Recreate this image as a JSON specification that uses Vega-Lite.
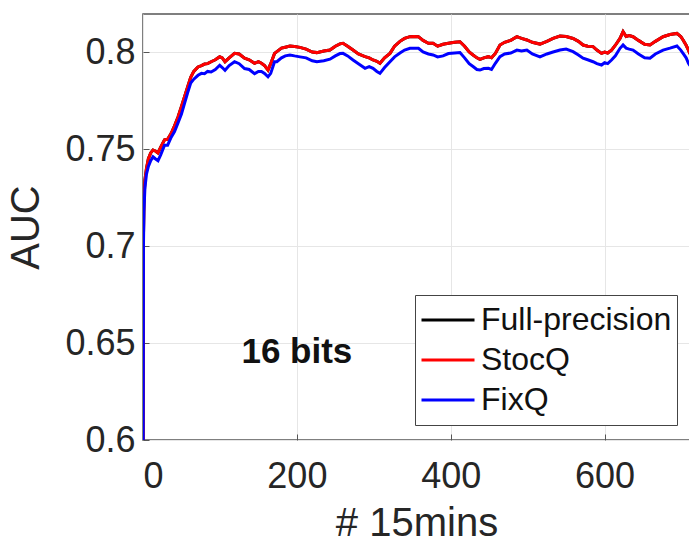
{
  "$schema": "https://vega.github.io/schema/vega-lite/v6.json",
  "width": 547,
  "height": 426,
  "autosize": {"type": "none"},
  "padding": {"left": 143, "top": 14, "right": 0, "bottom": 102},
  "background": "white",
  "config": {
    "font": "Liberation Sans",
    "view": {"stroke": "#555555", "strokeWidth": 1.5},
    "axis": {
      "grid": true,
      "gridColor": "#e6e6e6",
      "gridWidth": 1,
      "domain": false,
      "tickColor": "#555555",
      "tickSize": -6,
      "labelFontSize": 36,
      "labelColor": "#262626",
      "titleFontSize": 40,
      "titleFontWeight": "normal",
      "titleColor": "#262626"
    }
  },
  "layer": [
    {
      "data": {
        "values": [
          {"x": 0, "Full-precision": 0.55, "StocQ": 0.55, "FixQ": 0.55},
          {"x": 0.6, "Full-precision": 0.705, "StocQ": 0.705, "FixQ": 0.7},
          {"x": 1.2, "Full-precision": 0.722, "StocQ": 0.722, "FixQ": 0.718},
          {"x": 2.5, "Full-precision": 0.734, "StocQ": 0.734, "FixQ": 0.73},
          {"x": 4.5, "Full-precision": 0.74, "StocQ": 0.74, "FixQ": 0.737},
          {"x": 7, "Full-precision": 0.745, "StocQ": 0.745, "FixQ": 0.741},
          {"x": 10, "Full-precision": 0.748, "StocQ": 0.748, "FixQ": 0.744},
          {"x": 13, "Full-precision": 0.7495, "StocQ": 0.7495, "FixQ": 0.746},
          {"x": 16, "Full-precision": 0.749, "StocQ": 0.749, "FixQ": 0.745},
          {"x": 19.5, "Full-precision": 0.748, "StocQ": 0.748, "FixQ": 0.744},
          {"x": 23, "Full-precision": 0.751, "StocQ": 0.751, "FixQ": 0.747},
          {"x": 28, "Full-precision": 0.7547, "StocQ": 0.7547, "FixQ": 0.752},
          {"x": 32, "Full-precision": 0.755, "StocQ": 0.755, "FixQ": 0.752},
          {"x": 36.5, "Full-precision": 0.758, "StocQ": 0.758, "FixQ": 0.756},
          {"x": 41, "Full-precision": 0.762, "StocQ": 0.762, "FixQ": 0.759},
          {"x": 45.5, "Full-precision": 0.7665, "StocQ": 0.7665, "FixQ": 0.7635},
          {"x": 50, "Full-precision": 0.772, "StocQ": 0.772, "FixQ": 0.768},
          {"x": 54, "Full-precision": 0.777, "StocQ": 0.777, "FixQ": 0.7735},
          {"x": 58, "Full-precision": 0.782, "StocQ": 0.782, "FixQ": 0.779},
          {"x": 62, "Full-precision": 0.787, "StocQ": 0.787, "FixQ": 0.784},
          {"x": 66, "Full-precision": 0.79, "StocQ": 0.79, "FixQ": 0.786},
          {"x": 71.5, "Full-precision": 0.7923, "StocQ": 0.7923, "FixQ": 0.788},
          {"x": 76, "Full-precision": 0.793, "StocQ": 0.793, "FixQ": 0.789},
          {"x": 80, "Full-precision": 0.7938, "StocQ": 0.7938, "FixQ": 0.7888},
          {"x": 84, "Full-precision": 0.794, "StocQ": 0.794, "FixQ": 0.79},
          {"x": 88.5, "Full-precision": 0.795, "StocQ": 0.795, "FixQ": 0.7897},
          {"x": 94, "Full-precision": 0.796, "StocQ": 0.796, "FixQ": 0.791},
          {"x": 99.7, "Full-precision": 0.7976, "StocQ": 0.7976, "FixQ": 0.7932},
          {"x": 103, "Full-precision": 0.797, "StocQ": 0.797, "FixQ": 0.792},
          {"x": 106.6, "Full-precision": 0.795, "StocQ": 0.795, "FixQ": 0.7906},
          {"x": 112, "Full-precision": 0.797, "StocQ": 0.797, "FixQ": 0.793},
          {"x": 119, "Full-precision": 0.7993, "StocQ": 0.7993, "FixQ": 0.795},
          {"x": 125, "Full-precision": 0.799, "StocQ": 0.799, "FixQ": 0.794},
          {"x": 132, "Full-precision": 0.7968, "StocQ": 0.7968, "FixQ": 0.7915},
          {"x": 138, "Full-precision": 0.796, "StocQ": 0.796, "FixQ": 0.791},
          {"x": 145, "Full-precision": 0.7942, "StocQ": 0.7942, "FixQ": 0.7888},
          {"x": 150, "Full-precision": 0.795, "StocQ": 0.795, "FixQ": 0.79},
          {"x": 154, "Full-precision": 0.7942, "StocQ": 0.7942, "FixQ": 0.79},
          {"x": 158, "Full-precision": 0.793, "StocQ": 0.793, "FixQ": 0.789},
          {"x": 162.5, "Full-precision": 0.7907, "StocQ": 0.7907, "FixQ": 0.7872},
          {"x": 166, "Full-precision": 0.794, "StocQ": 0.794, "FixQ": 0.789},
          {"x": 171, "Full-precision": 0.7993, "StocQ": 0.7993, "FixQ": 0.795},
          {"x": 174, "Full-precision": 0.8002, "StocQ": 0.8002, "FixQ": 0.795},
          {"x": 180, "Full-precision": 0.802, "StocQ": 0.802, "FixQ": 0.797},
          {"x": 185, "Full-precision": 0.8025, "StocQ": 0.8025, "FixQ": 0.798},
          {"x": 191, "Full-precision": 0.8031, "StocQ": 0.8031, "FixQ": 0.7985},
          {"x": 197, "Full-precision": 0.8028, "StocQ": 0.8028, "FixQ": 0.798},
          {"x": 204, "Full-precision": 0.8024, "StocQ": 0.8024, "FixQ": 0.7975},
          {"x": 212, "Full-precision": 0.8015, "StocQ": 0.8015, "FixQ": 0.797},
          {"x": 220, "Full-precision": 0.8, "StocQ": 0.8, "FixQ": 0.7955},
          {"x": 226, "Full-precision": 0.7997, "StocQ": 0.7997, "FixQ": 0.795},
          {"x": 235, "Full-precision": 0.8005, "StocQ": 0.8005, "FixQ": 0.7955},
          {"x": 243, "Full-precision": 0.801, "StocQ": 0.801, "FixQ": 0.7963},
          {"x": 250, "Full-precision": 0.803, "StocQ": 0.803, "FixQ": 0.798},
          {"x": 256, "Full-precision": 0.8042, "StocQ": 0.8042, "FixQ": 0.7992},
          {"x": 260, "Full-precision": 0.8045, "StocQ": 0.8045, "FixQ": 0.7993},
          {"x": 266, "Full-precision": 0.803, "StocQ": 0.803, "FixQ": 0.798},
          {"x": 273, "Full-precision": 0.801, "StocQ": 0.801, "FixQ": 0.7959},
          {"x": 280, "Full-precision": 0.799, "StocQ": 0.799, "FixQ": 0.794},
          {"x": 288.6, "Full-precision": 0.7976, "StocQ": 0.7976, "FixQ": 0.7916},
          {"x": 294, "Full-precision": 0.797, "StocQ": 0.797, "FixQ": 0.7925},
          {"x": 299, "Full-precision": 0.7959, "StocQ": 0.7959, "FixQ": 0.7916},
          {"x": 304, "Full-precision": 0.7952, "StocQ": 0.7952, "FixQ": 0.79},
          {"x": 308, "Full-precision": 0.7942, "StocQ": 0.7942, "FixQ": 0.789},
          {"x": 314, "Full-precision": 0.797, "StocQ": 0.797, "FixQ": 0.792},
          {"x": 321, "Full-precision": 0.7993, "StocQ": 0.7993, "FixQ": 0.795},
          {"x": 327, "Full-precision": 0.803, "StocQ": 0.803, "FixQ": 0.7975},
          {"x": 334, "Full-precision": 0.8055, "StocQ": 0.8055, "FixQ": 0.7995},
          {"x": 340, "Full-precision": 0.807, "StocQ": 0.807, "FixQ": 0.801},
          {"x": 347, "Full-precision": 0.8079, "StocQ": 0.8079, "FixQ": 0.8019},
          {"x": 352, "Full-precision": 0.808, "StocQ": 0.808, "FixQ": 0.802},
          {"x": 358, "Full-precision": 0.8079, "StocQ": 0.8079, "FixQ": 0.8019},
          {"x": 364, "Full-precision": 0.806, "StocQ": 0.806, "FixQ": 0.8},
          {"x": 371, "Full-precision": 0.8045, "StocQ": 0.8045, "FixQ": 0.799},
          {"x": 377, "Full-precision": 0.8045, "StocQ": 0.8045, "FixQ": 0.7985},
          {"x": 383, "Full-precision": 0.803, "StocQ": 0.803, "FixQ": 0.7975},
          {"x": 390, "Full-precision": 0.804, "StocQ": 0.804, "FixQ": 0.798},
          {"x": 397, "Full-precision": 0.8045, "StocQ": 0.8045, "FixQ": 0.7992},
          {"x": 405, "Full-precision": 0.805, "StocQ": 0.805, "FixQ": 0.7995},
          {"x": 412, "Full-precision": 0.8053, "StocQ": 0.8053, "FixQ": 0.7997},
          {"x": 418, "Full-precision": 0.803, "StocQ": 0.803, "FixQ": 0.797},
          {"x": 424, "Full-precision": 0.8, "StocQ": 0.8, "FixQ": 0.794},
          {"x": 429, "Full-precision": 0.7985, "StocQ": 0.7985, "FixQ": 0.7925},
          {"x": 434, "Full-precision": 0.797, "StocQ": 0.797, "FixQ": 0.791},
          {"x": 438, "Full-precision": 0.7962, "StocQ": 0.7962, "FixQ": 0.7907},
          {"x": 443, "Full-precision": 0.797, "StocQ": 0.797, "FixQ": 0.7915},
          {"x": 449, "Full-precision": 0.7976, "StocQ": 0.7976, "FixQ": 0.7916},
          {"x": 453, "Full-precision": 0.797, "StocQ": 0.797, "FixQ": 0.791},
          {"x": 458, "Full-precision": 0.7993, "StocQ": 0.7993, "FixQ": 0.7942},
          {"x": 464, "Full-precision": 0.8036, "StocQ": 0.8036, "FixQ": 0.7976},
          {"x": 470, "Full-precision": 0.805, "StocQ": 0.805, "FixQ": 0.799},
          {"x": 478, "Full-precision": 0.806, "StocQ": 0.806, "FixQ": 0.7995},
          {"x": 486, "Full-precision": 0.8079, "StocQ": 0.8079, "FixQ": 0.801},
          {"x": 492, "Full-precision": 0.807, "StocQ": 0.807, "FixQ": 0.8005},
          {"x": 499, "Full-precision": 0.8062, "StocQ": 0.8062, "FixQ": 0.801},
          {"x": 506, "Full-precision": 0.805, "StocQ": 0.805, "FixQ": 0.799},
          {"x": 516, "Full-precision": 0.8041, "StocQ": 0.8041, "FixQ": 0.7975},
          {"x": 525, "Full-precision": 0.8055, "StocQ": 0.8055, "FixQ": 0.799},
          {"x": 533, "Full-precision": 0.807, "StocQ": 0.807, "FixQ": 0.8},
          {"x": 542, "Full-precision": 0.8082, "StocQ": 0.8082, "FixQ": 0.801},
          {"x": 550, "Full-precision": 0.808, "StocQ": 0.808, "FixQ": 0.8015},
          {"x": 559, "Full-precision": 0.807, "StocQ": 0.807, "FixQ": 0.8002},
          {"x": 566, "Full-precision": 0.8055, "StocQ": 0.8055, "FixQ": 0.7985},
          {"x": 572, "Full-precision": 0.8036, "StocQ": 0.8036, "FixQ": 0.7968},
          {"x": 578, "Full-precision": 0.803, "StocQ": 0.803, "FixQ": 0.796},
          {"x": 585, "Full-precision": 0.8028, "StocQ": 0.8028, "FixQ": 0.795},
          {"x": 590, "Full-precision": 0.801, "StocQ": 0.801, "FixQ": 0.794},
          {"x": 596, "Full-precision": 0.7993, "StocQ": 0.7993, "FixQ": 0.7933},
          {"x": 600, "Full-precision": 0.8, "StocQ": 0.8, "FixQ": 0.7945},
          {"x": 604, "Full-precision": 0.7995, "StocQ": 0.7995, "FixQ": 0.794},
          {"x": 609, "Full-precision": 0.801, "StocQ": 0.801, "FixQ": 0.7959},
          {"x": 614, "Full-precision": 0.8035, "StocQ": 0.8035, "FixQ": 0.798},
          {"x": 620, "Full-precision": 0.807, "StocQ": 0.807, "FixQ": 0.8019},
          {"x": 624, "Full-precision": 0.8105, "StocQ": 0.8105, "FixQ": 0.8036},
          {"x": 628, "Full-precision": 0.808, "StocQ": 0.808, "FixQ": 0.802},
          {"x": 632, "Full-precision": 0.8085, "StocQ": 0.8085, "FixQ": 0.8015},
          {"x": 637, "Full-precision": 0.8079, "StocQ": 0.8079, "FixQ": 0.801},
          {"x": 644, "Full-precision": 0.806, "StocQ": 0.806, "FixQ": 0.799},
          {"x": 652, "Full-precision": 0.804, "StocQ": 0.804, "FixQ": 0.797},
          {"x": 659, "Full-precision": 0.8036, "StocQ": 0.8036, "FixQ": 0.7968},
          {"x": 666, "Full-precision": 0.8055, "StocQ": 0.8055, "FixQ": 0.799},
          {"x": 676, "Full-precision": 0.8079, "StocQ": 0.8079, "FixQ": 0.801},
          {"x": 685, "Full-precision": 0.809, "StocQ": 0.809, "FixQ": 0.802},
          {"x": 694, "Full-precision": 0.8096, "StocQ": 0.8096, "FixQ": 0.8031},
          {"x": 699, "Full-precision": 0.808, "StocQ": 0.808, "FixQ": 0.801},
          {"x": 702, "Full-precision": 0.8062, "StocQ": 0.8062, "FixQ": 0.7993},
          {"x": 706, "Full-precision": 0.8035, "StocQ": 0.8035, "FixQ": 0.797},
          {"x": 709, "Full-precision": 0.801, "StocQ": 0.801, "FixQ": 0.7942},
          {"x": 711, "Full-precision": 0.799, "StocQ": 0.799, "FixQ": 0.793}
        ]
      },
      "transform": [{"fold": ["Full-precision", "StocQ", "FixQ"], "as": ["series", "auc"]}],
      "mark": {"type": "line", "strokeWidth": 3, "clip": true},
      "encoding": {
        "x": {
          "field": "x", "type": "quantitative",
          "scale": {"domain": [0, 711], "nice": false, "zero": false},
          "axis": {"values": [0, 200, 400, 600], "title": "# 15mins", "labelPadding": 25, "titlePadding": 9}
        },
        "y": {
          "field": "auc", "type": "quantitative",
          "scale": {"domain": [0.6, 0.8196], "nice": false, "zero": false},
          "axis": {"values": [0.6, 0.65, 0.7, 0.75, 0.8], "format": ".2~f", "title": "AUC", "labelPadding": 14, "titlePadding": 18}
        },
        "color": {
          "field": "series", "type": "nominal",
          "scale": {"domain": ["Full-precision", "StocQ", "FixQ"], "range": ["#000000", "#ff0000", "#0000ff"]},
          "legend": {
            "title": null,
            "orient": "none",
            "legendX": 272,
            "legendY": 281,
            "symbolType": "stroke",
            "symbolSize": 2809,
            "symbolStrokeWidth": 3,
            "labelFontSize": 32,
            "labelLimit": 0,
            "labelColor": "#111111",
            "labelOffset": 5,
            "clipHeight": 40,
            "rowPadding": 0,
            "padding": 5,
            "strokeColor": "#444444",
            "fillColor": "white"
          }
        }
      }
    },
    {
      "data": {"values": [{"x": 200, "auc": 0.6455, "label": "16 bits"}]},
      "mark": {"type": "text", "fontSize": 35, "fontWeight": "bold", "align": "center", "baseline": "middle", "color": "#111111"},
      "encoding": {
        "x": {"field": "x", "type": "quantitative"},
        "y": {"field": "auc", "type": "quantitative"},
        "text": {"field": "label"}
      }
    }
  ]
}
